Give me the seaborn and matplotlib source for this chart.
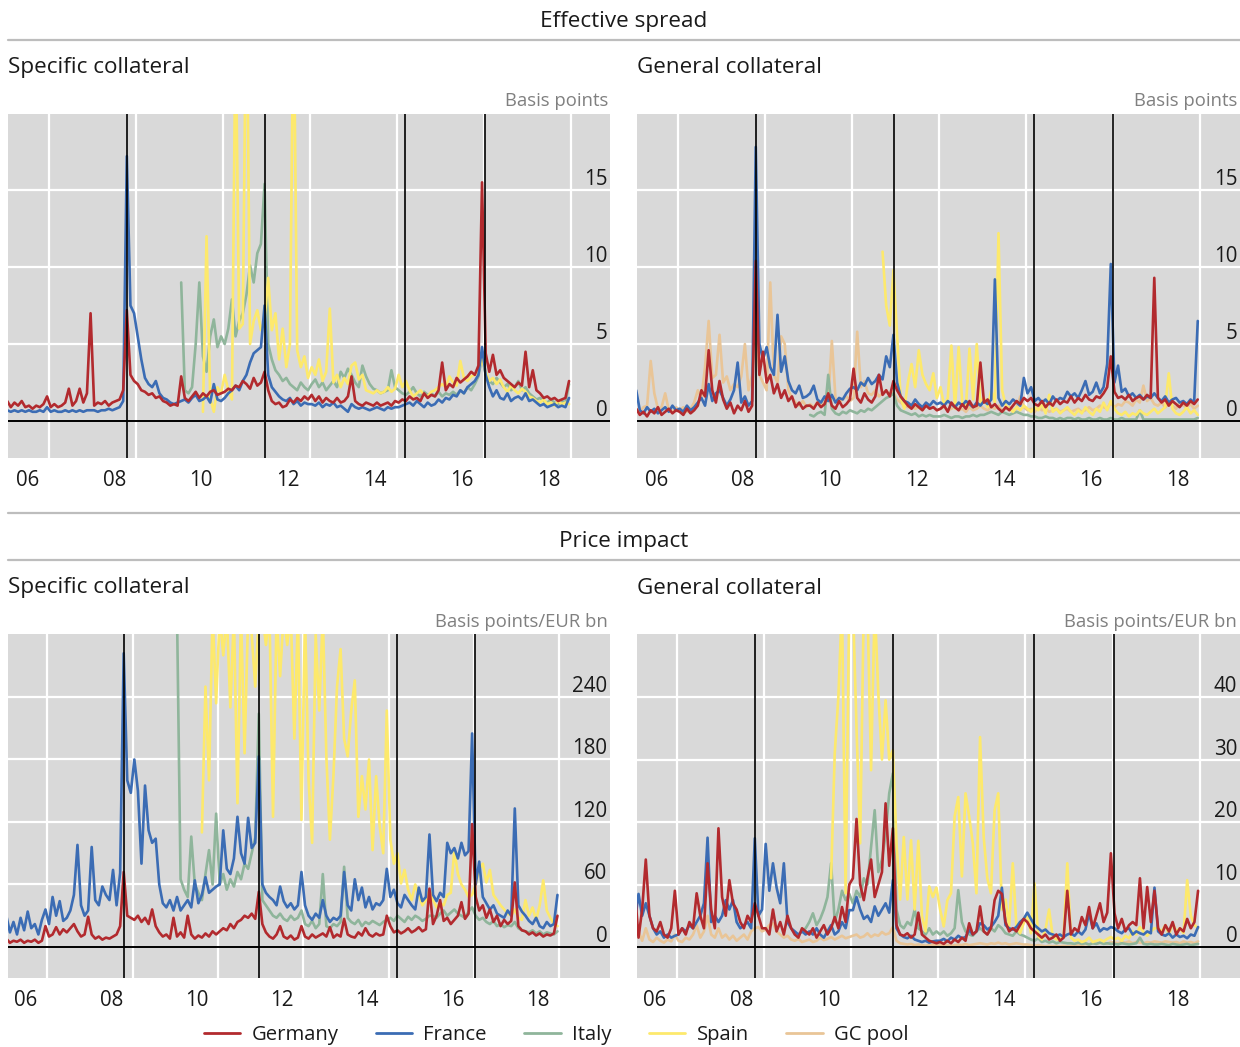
import numpy as np
import pandas as pd
import matplotlib
matplotlib.use("Agg")
import matplotlib.pyplot as plt
from matplotlib.lines import Line2D
import seaborn as sns

# Monthly readings taken off the chart (Jan 2006 - Dec 2018 unless a start is given)

# --- Effective spread, specific collateral (basis points) ---
es_sc_germany = [
    1.3, 0.9, 1.2, 1.0, 1.3, 0.9, 1.0, 0.8, 1.0, 0.9, 1.1, 1.6,
    0.9, 1.1, 0.9, 1.0, 1.2, 2.1, 1.0, 1.3, 2.1, 1.2, 1.8, 7.0,
    1.0, 1.2, 1.1, 1.3, 1.0, 1.2, 1.3, 1.4, 2.0, 7.2, 3.0, 2.6,
    2.4, 2.0, 1.9, 1.7, 1.8, 1.5, 1.6, 1.3, 1.2, 1.0, 1.1, 1.0,
    2.9, 1.5, 1.3, 1.6, 1.9, 1.5, 1.8, 1.6, 1.9, 2.0, 1.7, 1.8,
    1.9, 2.1, 2.0, 2.3, 2.2, 2.6, 2.4, 2.1, 2.8, 2.3, 2.5, 3.2,
    2.0, 1.3, 1.1, 1.2, 0.9, 1.0, 1.4, 1.2, 1.5, 1.3, 1.6, 1.4,
    1.7, 1.3, 1.6, 1.2, 1.5, 1.3, 1.2, 1.5, 1.2, 1.3, 1.6, 2.9,
    1.3, 1.1, 1.0, 1.2, 1.1, 1.0, 1.2, 1.0, 1.1, 1.2, 1.0, 1.3,
    1.2, 1.4, 1.3, 1.6, 1.4, 1.5, 1.3, 1.8, 1.5, 1.7, 1.6, 2.0,
    3.8, 2.0, 2.4, 2.2, 2.8, 2.5, 2.7, 2.9, 3.2, 3.0, 3.6, 15.5,
    4.4, 3.2, 4.3, 3.0, 3.3, 2.8, 2.6, 2.4, 2.2, 2.5, 2.3, 4.5,
    2.2, 3.3, 2.0, 1.8, 1.5, 1.6, 1.4, 1.5, 1.3, 1.4, 1.5, 2.6,
]
es_sc_france = [
    0.7, 0.6, 0.7, 0.6, 0.7, 0.6, 0.7, 0.6, 0.6, 0.7, 0.6, 0.9,
    0.6, 0.7, 0.6, 0.6, 0.7, 0.6, 0.7, 0.6, 0.7, 0.6, 0.7, 0.7,
    0.7, 0.6, 0.7, 0.7, 0.8, 0.7, 0.8, 0.9, 1.3, 17.2, 7.5, 7.0,
    5.5, 4.0, 2.8, 2.4, 2.2, 2.6, 1.8, 1.5, 1.4, 1.2, 1.1, 1.2,
    1.3, 1.4, 1.2, 1.5, 1.7, 1.3, 1.4, 1.6, 1.2, 2.4, 1.4, 1.3,
    1.5, 1.8, 2.0, 2.3, 2.0, 2.6, 3.0, 3.8, 4.4, 4.6, 4.8, 7.5,
    3.0, 2.2, 1.9, 1.6, 1.4, 1.3, 1.5, 1.1, 1.3, 1.0, 1.2, 1.1,
    1.1, 1.0, 1.2, 0.9, 1.1, 1.0, 1.2, 0.9, 1.0, 0.8, 0.6, 1.1,
    0.9, 0.8, 0.9, 0.8, 0.7, 0.8, 0.9, 0.8, 0.7, 0.9, 0.8, 0.9,
    0.9, 1.0, 1.1, 1.2, 1.0, 1.3, 1.1, 0.9, 1.2, 1.0, 1.1, 1.4,
    1.2, 1.5, 1.4, 1.7, 1.6, 2.0, 1.8, 2.2, 2.4, 2.6, 3.0, 4.8,
    3.0, 2.2, 1.6, 2.0, 1.5, 1.4, 1.8, 1.3, 1.5, 1.6, 1.4, 1.8,
    1.3, 1.4, 1.2, 1.0, 1.1, 0.9, 1.0, 1.1, 0.9, 1.0, 0.9, 1.5,
]
es_sc_italy_start = "2010-01"
es_sc_italy = [
    9.0, 2.0, 1.8, 2.2, 5.0, 9.0, 4.2, 3.2, 5.5, 6.6, 4.8, 5.5,
    5.0, 6.0, 7.9, 5.5, 6.5, 7.0, 8.2, 10.1, 9.0, 10.9, 11.5, 15.4,
    5.0, 4.0, 3.3, 3.0, 2.6, 2.8, 2.4, 2.2, 2.0, 2.5, 2.2, 2.0,
    2.4, 2.7, 2.2, 2.5, 2.0, 2.3, 2.6, 2.2, 3.2, 2.8, 3.4, 3.0,
    2.5, 2.2, 3.6, 2.9, 2.4, 2.1, 2.0, 1.8, 1.9, 2.0, 3.3, 2.2,
    2.0, 1.8, 1.7, 1.9, 2.2, 1.8, 1.6, 1.9, 1.7, 1.8, 1.6, 1.9,
    1.6, 1.8, 1.7, 1.9, 1.7, 2.0, 1.8, 2.2, 2.0, 2.4, 2.9, 4.2,
    3.0, 2.6, 2.4, 2.8, 2.5, 2.2, 2.4, 2.0, 2.2, 2.6, 2.0, 2.2,
    1.8, 1.6, 1.4, 1.5, 1.3, 1.2, 1.4, 1.2, 1.1, 1.3, 1.2, 2.4,
]
es_sc_spain_start = "2010-07"
es_sc_spain = [
    0.6, 12.0, 1.5, 0.6, 2.2, 1.8,
    3.0, 2.0, 1.4, 26.0, 6.0, 6.3, 30.0, 5.0, 6.5, 7.2, 5.9, 6.5,
    9.3, 5.9, 7.0, 4.0, 6.0, 3.5, 5.0, 28.0, 4.6, 3.5, 4.2, 2.8,
    3.5, 3.0, 4.0, 2.6, 3.2, 7.3, 2.5, 3.0, 2.2, 2.8, 2.4, 3.6,
    3.8, 2.7, 3.0, 2.0, 1.9, 1.8, 2.0, 1.8, 1.9, 2.2, 1.9, 2.1,
    3.0, 2.2, 2.6, 2.0, 1.6, 1.8, 2.0, 1.7, 1.6, 1.9, 2.0, 2.2,
    2.4, 2.2, 2.9, 2.5, 2.3, 3.9, 2.8, 2.6, 2.9, 3.0, 3.3, 4.0,
    3.2, 2.6, 2.8, 2.4, 2.7, 2.2, 1.9, 2.3, 2.0, 1.8, 2.1, 1.9,
    1.6, 1.5, 1.3, 1.2, 1.4, 1.1, 1.2, 1.0, 1.3, 1.1, 1.2, 1.1,
]

# --- Effective spread, general collateral (basis points) ---
es_gc_germany = [
    0.8, 0.4, 0.6, 0.3, 0.7, 0.5, 0.9, 0.4, 0.6, 0.8, 0.5, 0.7,
    0.6, 0.4, 0.8, 0.5, 0.7, 1.0, 2.0, 1.6, 4.6, 2.0, 1.2, 2.6,
    1.4, 0.8, 1.2, 0.5, 1.0, 0.7, 1.3, 0.6, 1.0, 10.4, 3.0, 4.5,
    2.5, 3.0, 1.8, 2.4, 1.5, 2.0, 1.3, 1.6, 0.9, 1.2, 0.8, 1.0,
    1.0, 0.8, 1.2, 0.9, 1.1, 1.8, 1.0, 0.8, 1.3, 0.9, 1.1, 1.4,
    3.4, 1.5, 1.2, 1.8, 1.4, 1.2, 1.6, 3.0, 1.7, 2.0, 1.6, 2.6,
    2.0, 1.6, 1.3, 1.0, 0.8, 1.1, 0.9, 0.7, 1.0, 0.8, 0.9, 0.7,
    0.8, 1.0, 0.6, 1.2, 0.9, 0.7, 1.1, 0.8, 1.3, 0.9, 1.0, 3.8,
    1.2, 1.4, 0.9, 1.1, 0.8, 0.6, 0.9, 0.7, 1.0, 1.3, 1.1, 1.5,
    1.3, 1.5, 1.1, 1.0, 1.3, 0.9, 1.2, 1.0, 1.4, 1.1, 1.3, 1.2,
    1.6, 1.2, 1.5, 1.3, 1.7, 1.4, 1.3, 1.6, 1.5, 1.8, 2.2, 4.2,
    1.9, 1.5, 1.6, 1.4, 1.7, 1.3, 1.5, 1.6, 1.4, 1.7, 1.5, 9.3,
    1.5, 1.2, 1.4, 1.0, 1.3, 1.1, 0.9, 1.2, 1.0, 1.3, 1.1, 1.4,
]
es_gc_france = [
    2.0, 0.7, 0.5, 0.9, 0.6, 0.8, 0.5, 0.7, 0.9, 0.6, 1.0, 0.7,
    0.8, 0.6, 1.0, 0.7, 0.9, 1.2, 1.5, 1.0, 2.4, 1.3, 1.8, 2.0,
    1.5, 1.0, 1.4, 2.0, 3.8, 1.2, 1.6, 1.0, 1.3, 17.8, 5.0, 4.0,
    4.8, 3.5, 3.0, 6.9, 3.2, 4.2, 2.6, 2.0, 1.8, 2.3, 1.5, 1.6,
    1.8, 2.3, 1.4, 1.2, 1.6, 1.3, 1.7, 1.2, 1.5, 1.4, 1.8, 2.1,
    2.2, 2.0, 2.5, 2.3, 2.8, 2.4, 2.6, 3.0, 2.7, 4.2, 3.5, 5.6,
    2.5, 1.6, 1.3, 1.2, 1.0, 1.4, 1.1, 0.9, 1.2, 1.0, 1.3, 1.1,
    1.2, 1.0, 1.3, 1.1, 0.9, 1.2, 1.0, 1.3, 1.1, 0.9, 1.2, 1.0,
    1.3, 1.1, 1.4, 9.2, 1.5, 1.0, 1.3, 1.1, 1.4, 1.2, 1.0, 2.8,
    1.8, 2.2, 1.3, 1.5, 1.2, 1.4, 1.1, 1.6, 1.3, 1.5, 1.4, 1.9,
    1.6, 1.8, 1.5, 2.0, 2.6, 1.7, 1.9, 2.5, 1.8, 2.2, 3.7, 10.2,
    2.5, 3.6, 1.9, 2.1, 1.6, 1.8, 1.5, 1.7, 1.4, 1.6, 1.5, 1.8,
    1.5, 1.3, 1.6, 1.2, 1.4, 1.5, 1.2, 1.3, 1.1, 1.4, 1.2, 6.5,
]
es_gc_italy_start = "2010-01"
es_gc_italy = [
    0.4, 0.3, 0.5, 0.6, 0.4, 3.0, 0.8, 0.5, 0.4, 0.6, 0.5, 0.7,
    0.6, 0.5, 0.7, 0.6, 0.8, 0.7, 0.9, 1.1, 1.3, 1.5, 1.6, 1.8,
    1.0, 0.7, 0.6, 0.5, 0.4, 0.5, 0.3, 0.4, 0.3, 0.4, 0.3, 0.3,
    0.3, 0.4, 0.3, 0.2, 0.3, 0.3, 0.2, 0.3, 0.3, 0.4, 0.3, 0.4,
    0.4, 0.5, 0.6, 0.5, 0.4, 0.6, 0.5, 0.4, 0.5, 0.6, 0.5, 0.4,
    0.4, 0.3, 0.3, 0.2, 0.2, 0.3, 0.2, 0.2, 0.1, 0.2, 0.1, 0.2,
    0.2, 0.1, 0.2, 0.1, 0.1, 0.2, 0.1, 0.1, 0.2, 0.1, 0.1, 0.2,
    0.1, 0.1, 0.2, 0.1, 0.1, 0.1, 0.1, 0.7, 0.1, 0.1, 0.1, 0.1,
    0.1, 0.1, 0.1, 0.1, 0.1, 0.1, 0.1, 0.1, 0.1, 0.1, 0.1, 0.2,
]
es_gc_spain_start = "2011-09"
es_gc_spain = [
    11.0, 7.5, 6.2, 9.8,
    5.6, 1.5, 0.8, 2.5, 3.7, 2.2, 4.6, 3.0, 2.4, 2.0, 3.1, 1.5,
    2.2, 1.0, 1.5, 4.9, 0.8, 4.8, 1.2, 0.9, 4.7, 1.4, 5.0, 1.2,
    1.5, 0.9, 2.0, 1.2, 12.2, 2.0, 1.0, 0.8, 0.6, 0.9, 0.7, 1.0,
    0.8, 0.6, 0.9, 0.7, 1.1, 0.5, 1.7, 0.6, 0.8, 0.5, 0.7, 0.9,
    0.6, 0.4, 0.7, 0.5, 0.9, 0.6, 0.4, 0.8, 0.6, 1.2, 0.7, 1.3,
    0.8, 0.5, 0.4, 0.6, 0.3, 0.5, 0.4, 0.7, 0.5, 0.4, 0.6, 0.8,
    0.5, 0.7, 0.9, 3.1, 0.8, 0.5, 0.4, 0.6, 0.9, 0.5, 0.7, 0.4,
]
es_gc_gcpool = [
    0.8, 0.6, 0.9, 1.0, 3.9, 1.8, 0.8, 0.9, 1.8, 0.7, 0.6, 0.9,
    0.7, 0.9, 0.6, 0.8, 1.2, 2.0, 1.5, 3.5, 6.5, 2.8, 3.0, 5.6,
    2.5, 2.9, 2.0, 2.4, 2.2, 2.9, 5.0, 2.0, 3.0, 6.0, 3.0, 2.5,
    2.0, 9.0, 3.0, 2.5, 5.5, 5.0, 2.0, 1.5, 1.2, 1.0, 1.3, 0.9,
    1.1, 0.9, 1.2, 1.0, 1.4, 1.3, 5.2, 1.5, 1.2, 1.4, 1.6, 1.3,
    1.5, 5.8, 2.2, 2.6, 1.8, 1.7, 2.0, 1.6, 1.8, 2.0, 1.7, 1.9,
    1.4, 1.2, 1.0, 0.9, 1.1, 0.8, 0.9, 0.7, 1.0, 0.8, 0.9, 0.7,
    0.8, 0.9, 0.7, 0.8, 1.0, 0.7, 0.8, 0.6, 0.9, 0.7, 0.8, 1.0,
    0.8, 0.7, 0.9, 0.8, 1.0, 0.7, 0.8, 0.9, 0.7, 0.8, 1.6, 0.9,
    0.7, 0.8, 0.6, 0.9, 0.7, 0.8, 0.6, 0.7, 0.8, 0.6, 0.7, 0.8,
    0.6, 0.7, 0.8, 0.6, 0.7, 0.9, 0.7, 0.8, 1.0, 0.9, 0.8, 1.2,
    0.9, 1.1, 1.0, 1.3, 1.2, 1.0, 1.4, 1.2, 2.3, 1.3, 1.5, 1.1,
    1.0, 1.2, 0.9, 1.1, 1.0, 0.8, 1.2, 1.0, 0.9, 1.1, 0.8, 1.0,
]

# --- Price impact, specific collateral (basis points/EUR bn) ---
pi_sc_germany = [
    8, 4, 6, 5, 7, 4, 6, 5, 7, 4, 6, 20,
    10, 12, 19, 12, 17, 14, 18, 22, 15, 10, 12, 29,
    12, 8, 10, 7, 9, 8, 10, 12, 20, 72, 30, 28,
    26, 30, 24, 28, 22, 36, 20, 14, 10, 12, 8, 28,
    10, 14, 9, 30, 12, 8, 11, 9, 13, 10, 15, 12,
    15, 18, 16, 22, 18, 24, 26, 30, 28, 32, 27, 53,
    22, 14, 10, 8, 12, 20, 10, 8, 11, 7, 9, 20,
    10, 8, 12, 9, 11, 13, 10, 19, 9, 12, 10, 27,
    12, 10, 9, 14, 11, 18, 12, 10, 13, 11, 12, 30,
    20, 14, 16, 13, 15, 18, 14, 16, 19, 15, 17, 56,
    22, 30, 45, 25, 28, 22, 26, 30, 43, 27, 32, 118,
    48, 35, 40, 28, 36, 24, 30, 20, 26, 22, 25, 62,
    20, 16, 15, 12, 14, 11, 13, 10, 12, 11, 13, 30,
]
pi_sc_france = [
    30, 14, 24, 12, 28, 16, 34, 18, 22, 12, 26, 36,
    22, 48, 30, 44, 25, 28, 35, 50, 98, 40, 30, 35,
    96, 45, 40, 58, 50, 45, 74, 40, 71, 282, 160, 148,
    180, 150, 80, 155, 112, 100, 104, 60, 42, 38, 45, 35,
    48, 35, 40, 45, 38, 64, 42, 50, 67, 52, 55, 58,
    60, 112, 75, 70, 85, 125, 90, 80, 124, 95, 100, 183,
    60, 52, 48, 45, 40, 58, 44, 38, 42, 36, 40, 72,
    40, 30, 26, 32, 28, 45, 30, 24, 28, 26, 30, 72,
    40, 35, 65, 45, 57, 38, 48, 36, 42, 40, 45, 75,
    48, 55, 42, 38, 50, 45, 40, 36, 57, 44, 48, 108,
    50, 44, 52, 48, 100, 90, 95, 85, 100, 88, 92, 205,
    60, 82, 48, 42, 36, 40, 32, 30, 28, 35, 30, 133,
    40, 34, 30, 25, 22, 28, 20, 18, 24, 20, 22, 50,
]
pi_sc_italy_start = "2010-01"
pi_sc_italy = [
    320, 65, 55, 48, 106, 60, 52, 45, 70, 93, 60, 128,
    60, 70, 55, 65, 58, 72, 65, 80, 75, 90, 105, 224,
    45, 40, 35, 30, 28, 32, 27, 25, 30, 26, 28, 35,
    22, 20, 25, 18, 22, 70, 20, 18, 22, 20, 24, 77,
    28, 24, 22, 26, 20, 24, 22, 25, 23, 21, 24, 26,
    28, 25, 30, 27, 24, 29, 26, 30, 28, 25, 27, 30,
    30, 28, 32, 35, 30, 33, 36, 32, 30, 28, 34, 38,
    30, 26, 28, 24, 22, 25, 20, 22, 19, 21, 20, 24,
    18, 16, 15, 14, 16, 13, 15, 12, 14, 13, 12, 15,
]
pi_sc_spain_start = "2010-08"
pi_sc_spain = [
    110, 250, 160, 320, 234,
    320, 280, 320, 230, 320, 138, 320, 186, 320, 300, 250, 320,
    320, 290, 320, 125, 320, 260, 320, 290, 320, 200, 320, 122,
    320, 160, 100, 300, 227, 320, 183, 103, 165, 250, 286, 200,
    183, 227, 256, 125, 164, 132, 180, 93, 164, 116, 90, 227,
    103, 80, 90, 61, 74, 55, 45, 60, 50, 40, 45, 55,
    45, 38, 42, 40, 50, 52, 93, 70, 60, 55, 48, 50,
    60, 75, 80, 62, 74, 50, 45, 40, 36, 32, 30, 36,
    28, 26, 45, 30, 38, 26, 40, 64, 35, 28, 22, 20,
]

# --- Price impact, general collateral (basis points/EUR bn) ---
pi_gc_germany = [
    9, 1.5, 6, 14, 5, 3, 2.5, 4, 2, 1.5, 3, 9,
    2, 3, 2, 4, 3, 8.6, 5, 3, 13.4, 6, 3, 19,
    8, 5, 10.7, 7, 6, 4, 3, 5, 4, 7, 5, 3,
    3, 2, 6, 2.5, 4, 2, 5, 3, 2, 1.5, 3, 2.5,
    2, 3, 1.5, 2.5, 3.5, 2, 3, 4.8, 3, 6.4, 4, 10,
    11, 20.5, 10, 7.5, 11, 14, 8, 10, 12, 23, 13, 19,
    3.5, 2, 1.8, 2.2, 1.5, 2.0, 5.5, 2.0, 1.5, 1.0, 0.8, 0.6,
    0.8, 0.5, 1.0, 0.6, 1.2, 0.8, 1.5, 1.0, 3.8, 2.0, 2.5, 6.5,
    2.5, 2.0, 3.0, 7.5, 9.0, 8.5, 4.0, 2.5, 3.0, 2.5, 3.5, 4.5,
    4.0, 3.0, 2.5, 2.0, 1.5, 2.0, 1.2, 1.5, 2.0, 1.0, 1.5, 9.0,
    2.0, 3.0, 2.5, 4.8, 3.5, 6.4, 3.0, 5.0, 7.0, 4.0, 5.5, 15.0,
    5.4, 3.0, 4.5, 2.5, 3.5, 4.0, 3.5, 11.0, 3.0, 9.6, 4.0, 9.0,
    3.0, 2.0, 3.5, 2.5, 4.0, 2.0, 3.0, 2.5, 4.5, 3.0, 4.0, 9.0,
]
pi_gc_france = [
    4, 8.5, 5, 7, 5, 3, 2, 2.5, 1.5, 2, 1.5, 1.8,
    2, 3, 2.5, 3.5, 3, 4, 5, 7, 17.5, 4, 5, 4,
    5, 7.5, 6, 7.5, 4, 3, 3.5, 4, 3, 17.4, 5, 6,
    16.5, 9, 13.4, 9.5, 7, 13.4, 4, 3, 2.5, 2, 2.5, 2,
    2.5, 2, 3, 2, 1.5, 2.5, 3.5, 2, 2.5, 4, 3, 5.9,
    5.9, 8.0, 6, 4.5, 5, 4, 6.5, 5, 6, 7, 5.5, 10.7,
    3.0, 2.0, 1.6, 1.4, 1.8, 1.2, 1.0, 0.8, 1.0, 0.7, 0.9, 1.0,
    1.0, 1.3, 0.9, 1.5, 1.2, 1.8, 1.4, 1.6, 2.7, 2.0, 2.5, 3.8,
    3.5, 2.8, 3.2, 4.0, 5.0, 9.5, 3.5, 3.0, 2.8, 3.2, 4.0, 4.5,
    5.5, 4.5, 3.5, 3.0, 2.5, 2.8, 2.2, 2.0, 1.8, 2.0, 1.6, 2.0,
    2.2, 1.8, 2.5, 2.0, 2.8, 5.4, 3.0, 3.8, 2.5, 3.0, 2.8, 3.2,
    3.0, 2.5, 2.2, 2.8, 3.0, 2.0, 2.5, 2.2, 2.0, 2.5, 2.2, 9.5,
    2.5, 2.0, 1.8, 2.2, 1.5, 2.0, 1.6, 1.8, 1.4, 2.0, 1.8, 3.2,
]
pi_gc_italy_start = "2009-11"
pi_gc_italy = [
    2.5, 3.0,
    4.0, 5.4, 3.5, 4.5, 6.0, 8.0, 13.4, 4.0, 6.0, 9.0, 7.5, 8.5,
    7.0, 9.0, 8.0, 11.0, 10.0, 16.0, 21.9, 12.0, 14.0, 18.0, 24.6, 27.8,
    6.0, 3.5, 3.0, 4.0, 3.5, 6.0, 3.0, 2.5, 2.0, 3.0, 2.0, 2.5,
    2.0, 2.5, 1.8, 2.2, 3.0, 9.1, 4.0, 2.5, 2.0, 1.8, 2.5, 3.0,
    2.5, 2.0, 3.0, 2.5, 3.5, 3.0, 2.2, 2.0, 1.8, 2.5, 2.0, 1.8,
    1.5, 1.2, 1.0, 1.4, 0.8, 1.0, 0.7, 0.9, 0.6, 0.8, 0.7, 0.6,
    0.6, 0.5, 0.7, 0.5, 0.6, 0.4, 0.6, 0.5, 0.7, 0.5, 0.6, 0.5,
    0.5, 0.4, 0.6, 0.5, 0.4, 0.5, 0.6, 1.5, 0.5, 0.4, 0.5, 0.4,
    0.4, 0.5, 0.4, 0.3, 0.5, 0.4, 0.3, 0.4, 0.5, 0.3, 0.4, 0.5,
]
pi_gc_spain_start = "2010-07"
pi_gc_spain = [
    11, 31, 40, 55, 8.6, 55,
    55, 35, 16.6, 55, 55, 28.3, 55, 40.5, 30, 39.5, 30, 31.5,
    16.6, 7.6, 17.6, 7.6, 17.1, 6.0, 17.0, 5.0, 2.5, 9.7, 8.0, 9.5,
    6.0, 3.3, 7.5, 8.6, 20.9, 24.0, 11.3, 24.6, 20.9, 16.6, 8.6, 33.6,
    17.6, 11.0, 8.6, 21.9, 24.6, 6.0, 7.6, 3.3, 13.4, 3.3, 2.2, 3.8,
    5.4, 2.2, 10.2, 1.7, 1.2, 2.8, 6.0, 1.7, 1.2, 1.2, 1.7, 13.4,
    1.5, 1.0, 1.2, 0.8, 1.0, 1.5, 0.8, 1.0, 1.2, 0.9, 1.3, 1.6,
    1.2, 1.5, 1.0, 1.8, 1.4, 2.5, 2.0, 3.2, 2.4, 1.8, 2.5, 3.0,
    3.0, 2.5, 3.5, 2.0, 3.8, 2.5, 3.0, 2.2, 10.7, 5.0, 3.5, 3.0,
]
pi_gc_gcpool = [
    1.5, 2.5, 1.0, 3.0, 1.2, 0.8, 1.5, 1.0, 0.7, 1.2, 0.9, 2.0,
    1.0, 0.8, 1.5, 1.2, 2.0, 3.5, 1.5, 2.5, 5.0, 2.0, 1.5, 3.0,
    1.5, 2.0, 1.2, 1.8, 1.0, 1.5, 2.0, 1.2, 2.5, 3.0, 3.2, 2.5,
    2.8, 3.5, 3.8, 2.5, 2.0, 1.5, 1.8, 1.2, 1.0, 1.3, 0.8, 1.0,
    1.2, 0.8, 1.0, 1.5, 1.1, 1.3, 1.6, 1.2, 1.5, 1.8, 1.4, 1.6,
    1.8, 2.0, 1.5, 1.7, 2.2, 1.6, 2.0, 1.8, 2.4, 2.0, 2.2, 3.2,
    1.0, 0.6, 0.5, 0.4, 0.5, 0.3, 0.4, 0.3, 0.2, 0.3, 0.4, 0.3,
    0.3, 0.4, 0.3, 0.2, 0.3, 0.4, 0.3, 0.5, 0.3, 0.4, 0.5, 0.6,
    0.5, 0.4, 0.6, 0.5, 0.7, 0.5, 0.6, 0.4, 0.5, 0.6, 0.5, 0.4,
    0.4, 0.3, 0.2, 0.3, 0.2, 0.1, 0.2, 0.1, 0.2, 0.1, 0.2, 0.1,
    0.2, 0.3, 0.4, 0.3, 0.5, 0.4, 0.6, 0.5, 0.7, 0.6, 0.5, 0.8,
    0.7, 0.6, 0.8, 0.7, 0.9, 0.6, 0.8, 0.7, 0.6, 0.8, 0.7, 0.9,
    0.8, 0.7, 0.9, 0.8, 0.7, 0.8, 0.6, 0.9, 0.7, 0.8, 0.6, 0.9,
]

full_start = "2006-01"
event_dates = [2008.79, 2011.97, 2015.19, 2017.02]   # vertical black lines
tick_years = list(range(2007, 2020))                  # year boundaries
grid_years = [2007, 2009, 2011, 2013, 2015, 2017, 2019]
label_pos = [2006.5, 2008.5, 2010.5, 2012.5, 2014.5, 2016.5, 2018.5]
label_txt = ["06", "08", "10", "12", "14", "16", "18"]

legend_order = ["Germany", "France", "Italy", "Spain", "GC pool"]
draw_order = ["GC pool", "Italy", "Spain", "France", "Germany"]
palette = {"Germany": "#b22a2e", "France": "#3b6cb4", "Italy": "#8fb59b",
           "Spain": "#fde96c", "GC pool": "#e9c597"}

TXT = "#1a1a1a"


def frame(values, start, name):
    p = pd.period_range(start, periods=len(values), freq="M")
    return pd.DataFrame({"year": p.year + (p.month - 0.5) / 12,
                         "value": values, "series": name})


def draw_panel(ax, parts, xlim, ylim, yticks):
    df = pd.concat(parts, ignore_index=True)
    order = [s for s in draw_order if s in set(df["series"])]
    ax.set_facecolor("#d9d9d9")
    for s in order:
        sns.lineplot(data=df[df["series"] == s], x="year", y="value",
                     color=palette[s], linewidth=1.9, estimator=None,
                     sort=False, ax=ax, zorder=2)
    ax.set_xlim(*xlim)
    ax.set_ylim(*ylim)
    ax.set_xlabel("")
    ax.set_ylabel("")
    ax.grid(False)
    for v in yticks[1:]:
        ax.axhline(v, color="white", lw=1.6, zorder=0.5)
    for g in grid_years:
        ax.axvline(g, color="white", lw=1.6, zorder=0.5)
    for e in event_dates:
        ax.axvline(e, color="black", lw=1.2, zorder=3)
    ax.axhline(0, color="black", lw=1.4, zorder=3)
    for sp in ax.spines.values():
        sp.set_visible(False)
    # year boundary ticks, labels centred on the years
    ax.set_xticks(tick_years)
    ax.set_xticks(label_pos, minor=True)
    ax.set_xticklabels(label_txt, minor=True)
    ax.tick_params(axis="x", which="major", direction="in", length=11,
                   width=1.2, color="black", labelbottom=False)
    ax.tick_params(axis="x", which="minor", length=0, pad=9,
                   labelsize=14.8, labelcolor=TXT)
    ax.yaxis.tick_right()
    ax.set_yticks(yticks)
    ax.set_yticklabels([str(v) for v in yticks])
    ax.tick_params(axis="y", length=0, pad=-2, labelsize=14.8, labelcolor=TXT)
    for lbl in ax.get_yticklabels():
        lbl.set_horizontalalignment("right")
        lbl.set_verticalalignment("bottom")


sns.set_theme(style="white")
plt.rcParams["font.family"] = ["Open Sans", "DejaVu Sans"]

W, H = 1240, 1047
fig = plt.figure(figsize=(W / 100, H / 100), dpi=100)


def px_axes(x0, y0, x1, y1):
    return fig.add_axes([x0 / W, 1 - y1 / H, (x1 - x0) / W, (y1 - y0) / H])


def px_text(x, y, s, **kw):
    fig.text(x / W, 1 - y / H, s, va="center", **kw)


def px_rule(y):
    fig.add_artist(Line2D([8 / W, 1.0], [1 - y / H] * 2, color="#bdbdbd", lw=1.6))


# section headers
px_text(624, 21, "Effective spread", ha="center", fontsize=16.2, color=TXT)
px_rule(40)
px_text(8, 68, "Specific collateral", ha="left", fontsize=16.2, color=TXT)
px_text(637, 68, "General collateral", ha="left", fontsize=16.2, color=TXT)
px_text(608, 101, "Basis points", ha="right", fontsize=13.3, color="#808080")
px_text(1237, 101, "Basis points", ha="right", fontsize=13.3, color="#808080")

px_rule(513)
px_text(624, 542, "Price impact", ha="center", fontsize=16.2, color=TXT)
px_rule(560)
px_text(8, 588, "Specific collateral", ha="left", fontsize=16.2, color=TXT)
px_text(637, 588, "General collateral", ha="left", fontsize=16.2, color=TXT)
px_text(608, 622, "Basis points/EUR bn", ha="right", fontsize=13.3, color="#808080")
px_text(1237, 622, "Basis points/EUR bn", ha="right", fontsize=13.3, color="#808080")

ax1 = px_axes(8, 114, 610, 458)
draw_panel(ax1, [frame(es_sc_germany, full_start, "Germany"),
                 frame(es_sc_france, full_start, "France"),
                 frame(es_sc_italy, es_sc_italy_start, "Italy"),
                 frame(es_sc_spain, es_sc_spain_start, "Spain")],
           (2006.06, 2019.9), (-2.4, 19.94), [0, 5, 10, 15])

ax2 = px_axes(637, 114, 1240, 458)
draw_panel(ax2, [frame(es_gc_germany, full_start, "Germany"),
                 frame(es_gc_france, full_start, "France"),
                 frame(es_gc_italy, es_gc_italy_start, "Italy"),
                 frame(es_gc_spain, es_gc_spain_start, "Spain"),
                 frame(es_gc_gcpool, full_start, "GC pool")],
           (2006.06, 2019.93), (-2.4, 19.94), [0, 5, 10, 15])

ax3 = px_axes(8, 634, 610, 978)
draw_panel(ax3, [frame(pi_sc_germany, full_start, "Germany"),
                 frame(pi_sc_france, full_start, "France"),
                 frame(pi_sc_italy, pi_sc_italy_start, "Italy"),
                 frame(pi_sc_spain, pi_sc_spain_start, "Spain")],
           (2006.08, 2020.19), (-29.8, 300.5), [0, 60, 120, 180, 240])

ax4 = px_axes(637, 634, 1240, 978)
draw_panel(ax4, [frame(pi_gc_germany, full_start, "Germany"),
                 frame(pi_gc_france, full_start, "France"),
                 frame(pi_gc_italy, pi_gc_italy_start, "Italy"),
                 frame(pi_gc_spain, pi_gc_spain_start, "Spain"),
                 frame(pi_gc_gcpool, full_start, "GC pool")],
           (2006.09, 2019.92), (-4.96, 50.1), [0, 10, 20, 30, 40])

handles = [Line2D([0], [0], color=palette[s], lw=2) for s in legend_order]
fig.legend(handles, legend_order, loc="center", ncol=5, frameon=False,
           bbox_to_anchor=(556 / W, 1 - 1035 / H), fontsize=14.6,
           handlelength=1.8, handletextpad=0.55, columnspacing=1.85,
           labelcolor=TXT)

fig.savefig("out.png", dpi=100)
